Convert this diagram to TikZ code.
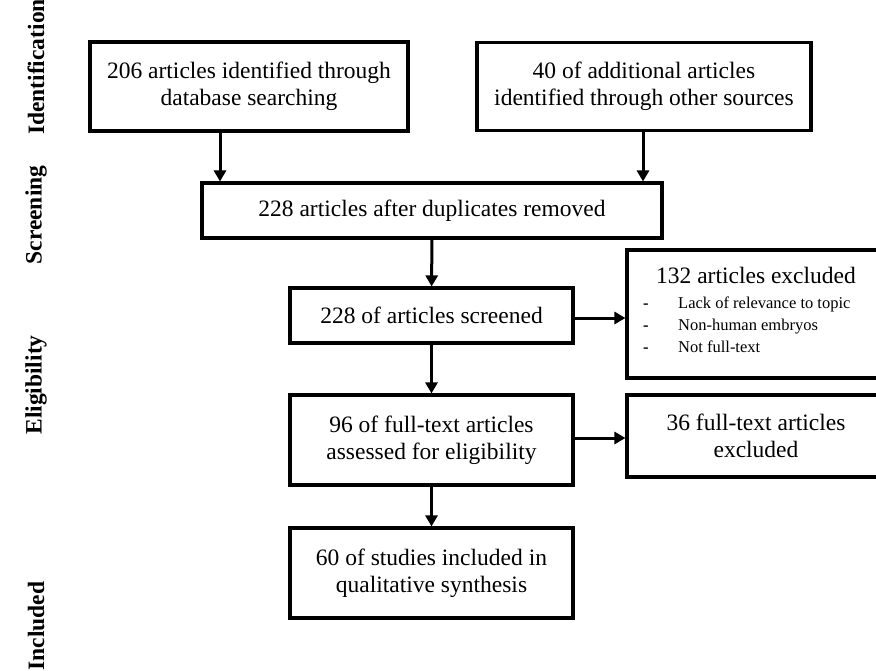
\documentclass[tikz,border=0pt]{standalone}
\usepackage{fontspec}
\setmainfont{Liberation Serif}
\usetikzlibrary{arrows.meta}
\newcommand\mainsz{\fontsize{23.5}{27}\selectfont}
\newcommand\smallsz{\fontsize{16.5}{21}\selectfont}
\begin{document}
\begin{tikzpicture}[x=1pt,y=-1pt,
  box/.style={draw, line width=3.1pt, inner sep=0pt, align=center, font=\mainsz},
  arr/.style={line width=3pt, -{Triangle[length=11pt,width=12pt]}},
  phase/.style={rotate=90, font=\mainsz\bfseries, inner sep=0pt},
  item/.style={font=\smallsz, anchor=base west, inner sep=0pt}]
\useasboundingbox (0,0) rectangle (876,670);
\clip (0,0) rectangle (876,670);
% phase labels
\node[phase] (lid) at (36,67) {Identification};
\node[phase] (lsc) at (36,215) {Screening};
\node[phase] (lel) at (36,385) {Eligibility};
\node[phase] (lin) at (36,626) {Included};
% boxes
\node[box, minimum width=318pt, minimum height=89pt] (b1) at (249,86.5)
  {206 articles identified through\\database searching};
\node[box, minimum width=334pt, minimum height=88pt] (b2) at (644,86.5)
  {40 of additional articles\\identified through other sources};
\node[box, minimum width=460pt, minimum height=55pt] (b3) at (432,210.5)
  {228 articles after duplicates removed};
\node[box, minimum width=283pt, minimum height=55pt] (b4) at (431.5,315.5)
  {228 of articles screened};
\node[box, minimum width=258pt, minimum height=128pt] (b5) at (756,314) {};
\node[box, minimum width=283pt, minimum height=90pt] (b6) at (431.5,440)
  {96 of full-text articles\\assessed for eligibility};
\node[box, minimum width=258pt, minimum height=82pt] (b7) at (756,436)
  {36 full-text articles\\excluded};
\node[box, minimum width=283pt, minimum height=90pt] (b8) at (431.5,573)
  {60 of studies included in\\qualitative synthesis};
% contents of exclusion box
\node[font=\mainsz, anchor=base, inner sep=0pt] (t5) at (756,283) {132 articles excluded};
\node[item, font=\smallsz\bfseries] (d1) at (643,308) {-};
\node[item, font=\smallsz\bfseries] (d2) at (643,330) {-};
\node[item, font=\smallsz\bfseries] (d3) at (643,352) {-};
\node[item] (i1) at (678,308) {Lack of relevance to topic};
\node[item] (i2) at (678,330) {Non-human embryos};
\node[item] (i3) at (678,352) {Not full-text};
% connectors
\coordinate (c1) at (220,0);
\coordinate (c2) at (643,0);
\coordinate (r1) at (0,318);
\coordinate (r2) at (0,438);
\draw[arr] (b1.south -| c1) -- (b3.north -| c1);
\draw[arr] (b2.south -| c2) -- (b3.north -| c2);
\draw[arr] (b3) -- (b4);
\draw[arr] (b4.east |- r1) -- (b5.west |- r1);
\draw[arr] (b4) -- (b6);
\draw[arr] (b6.east |- r2) -- (b7.west |- r2);
\draw[arr] (b6) -- (b8);
\end{tikzpicture}
\end{document}
